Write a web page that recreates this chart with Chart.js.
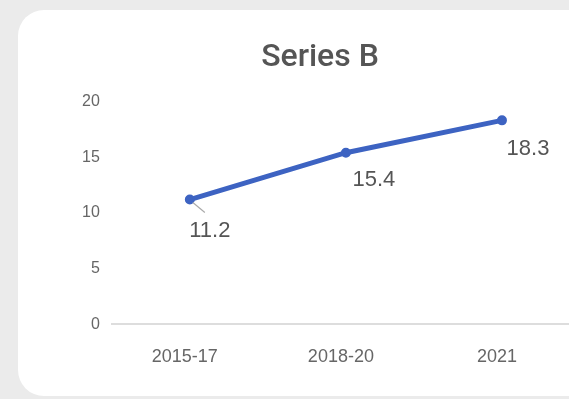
<!DOCTYPE html>
<html>
<head>
<meta charset="utf-8">
<script src="https://cdn.jsdelivr.net/npm/chart.js@4/dist/chart.umd.min.js"></script>
<style>
  html, body { margin: 0; padding: 0; background: #ebebeb; width: 569px; height: 399px; overflow: hidden; }
  #card { position: absolute; left: 18px; top: 10px; width: 604px; height: 386px; background: #fff; border-radius: 26px; overflow: hidden; }
  #wrap { position: absolute; left: 0; top: 0; width: 604px; height: 386px; }
</style>
</head>
<body>
<div id="card"><div id="wrap"><canvas id="c"></canvas></div></div>
<script>
const categories = ["2015-17", "2018-20", "2021"];
const seriesB = [11.2, 15.4, 18.3];
const yTicks = [0, 5, 10, 15, 20];
const chartTitle = "Series B";

const labelOffsets = [[20, 31], [28, 27], [26, 29]];
const FONT = '"Liberation Sans", Arial, sans-serif';

const dataLabelPlugin = {
  id: 'dataLabels',
  afterDatasetsDraw(chart) {
    const ctx = chart.ctx;
    const meta = chart.getDatasetMeta(0);
    ctx.save();
    meta.data.forEach((pt, i) => {
      const [dx, dy] = labelOffsets[i];
      if (i === 0) {
        ctx.strokeStyle = '#aaaaaa';
        ctx.lineWidth = 1.2;
        ctx.beginPath();
        ctx.moveTo(pt.x + 3, pt.y + 3);
        ctx.lineTo(pt.x + 15, pt.y + 13);
        ctx.stroke();
      }
      ctx.fillStyle = '#555555';
      ctx.font = '22px ' + FONT;
      ctx.textAlign = 'center';
      ctx.textBaseline = 'middle';
      ctx.fillText(String(seriesB[i]), pt.x + dx, pt.y + dy);
    });
    ctx.restore();
  }
};

new Chart(document.getElementById('c'), {
  type: 'line',
  data: {
    labels: categories,
    datasets: [{
      label: chartTitle,
      data: seriesB,
      borderColor: '#3d63c2',
      backgroundColor: '#3d63c2',
      borderWidth: 5,
      pointRadius: 4,
      pointBorderWidth: 2,
      pointHoverRadius: 4,
      tension: 0
    }]
  },
  options: {
    responsive: true,
    maintainAspectRatio: false,
    animation: false,
    layout: { padding: { left: 42, right: 42, top: 0, bottom: 6 } },
    plugins: {
      legend: { display: false },
      tooltip: { enabled: false },
      title: {
        display: true,
        text: chartTitle,
        color: '#555555',
        font: { family: 'Roboto, ' + FONT, size: 32, weight: '500' },
        padding: { top: 29, bottom: 24 }
      }
    },
    scales: {
      x: {
        offset: true,
        grid: { display: false, drawTicks: false },
        border: { display: true, color: '#dddddd', width: 2 },
        ticks: { color: '#666666', font: { family: FONT, size: 18 }, padding: 22, labelOffset: -5 }
      },
      y: {
        min: 0, max: 20,
        afterBuildTicks(scale) { scale.ticks = yTicks.map(v => ({ value: v })); },
        afterFit(scale) { scale.width += 10; },
        grid: { display: false, drawTicks: false },
        border: { display: false },
        ticks: { color: '#666666', font: { family: FONT, size: 16 }, padding: 12 }
      }
    }
  },
  plugins: [dataLabelPlugin]
});
</script>
</body>
</html>
